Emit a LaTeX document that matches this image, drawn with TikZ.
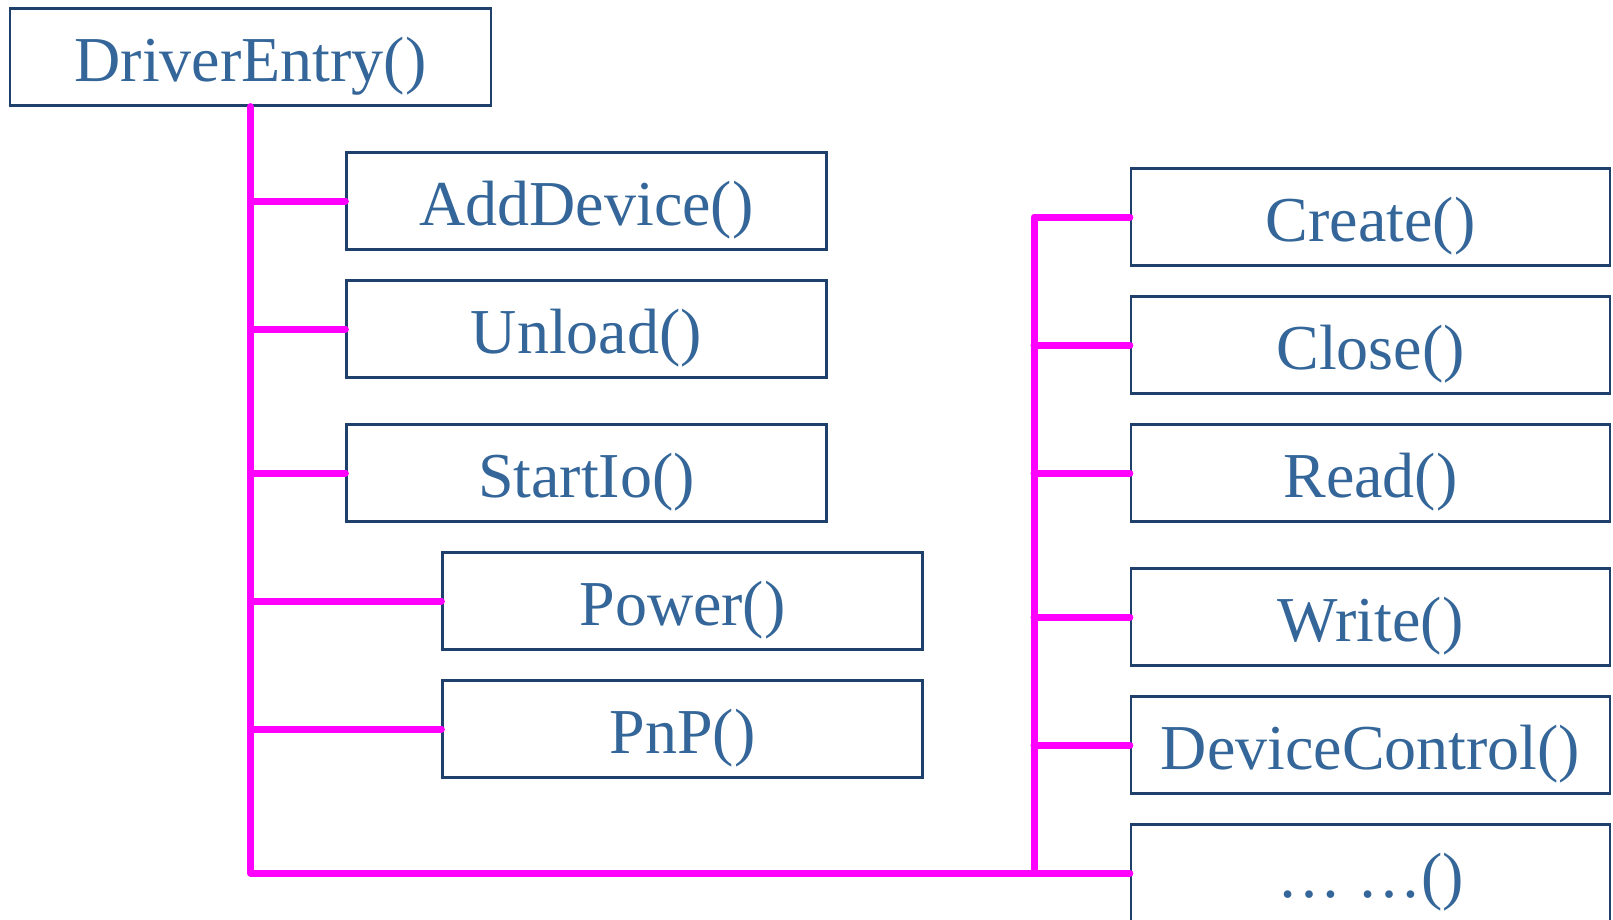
\documentclass[tikz,border=0pt]{standalone}
\usepackage{fontspec}
\setmainfont{Liberation Serif}
\definecolor{funcblue}{RGB}{52,102,153}
\definecolor{boxline}{RGB}{31,64,106}
\definecolor{wire}{RGB}{255,0,255}
\begin{document}
\begin{tikzpicture}[x=1pt,y=-1pt,
  func/.style={draw=boxline, line width=2.2pt, fill=white, text=funcblue,
    minimum width=480pt, minimum height=97pt, inner sep=0pt,
    text height=58pt, text depth=10pt,
    font=\fontsize{64}{70}\selectfont},
  link/.style={draw=wire, line width=7pt, line cap=round, line join=round}]
\useasboundingbox (0,0) rectangle (1613,919);
\clip (0,0) rectangle (1613,919);

% entry point and the routines it registers
\node[func, minimum width=481pt] (entry) at (250.5,57) {DriverEntry()};
\node[func] (add)    at (586.5,201) {AddDevice()};
\node[func] (unload) at (586.5,329) {Unload()};
\node[func] (start)  at (586.5,473) {StartIo()};
\node[func] (power)  at (682.5,601) {Power()};
\node[func] (pnp)    at (682.5,729) {PnP()};

% dispatch routines
\node[func, minimum width=479pt] (create) at (1370.5,217) {Create()};
\node[func, minimum width=479pt] (close)  at (1370.5,345) {Close()};
\node[func, minimum width=479pt] (read)   at (1370.5,473) {Read()};
\node[func, minimum width=479pt] (write)  at (1370.5,617) {Write()};
\node[func, minimum width=479pt] (ioctl)  at (1370.5,745) {DeviceControl()};
\node[func, minimum width=479pt] (more)   at (1370.5,873) {\ldots\ \ldots()};

\coordinate (rspine) at (1034,872);

% left trunk and its branches
\draw[link] (entry.south) |- (more.west);
\foreach \n in {add,unload,start,power,pnp}
  \draw[link] (entry.south |- \n.west) -- (\n.west);

% right trunk and its branches
\draw[link] (create.west) -| (rspine);
\foreach \n in {close,read,write,ioctl}
  \draw[link] (rspine |- \n.west) -- (\n.west);
\end{tikzpicture}
\end{document}
